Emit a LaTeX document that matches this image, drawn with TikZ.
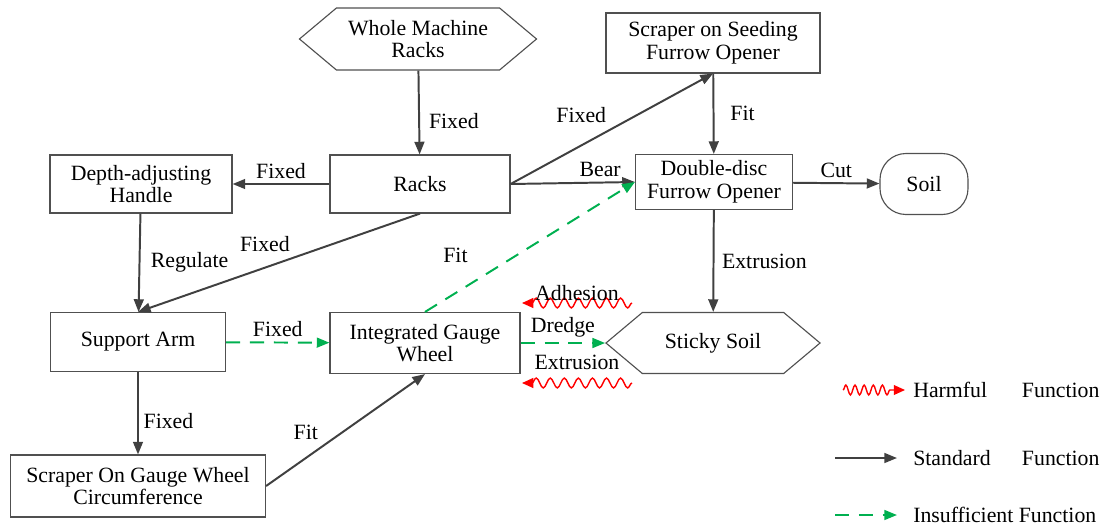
\documentclass[tikz,border=0pt]{standalone}
\usepackage{fontspec}
\setmainfont{Liberation Serif}
\usetikzlibrary{arrows.meta,shapes.symbols,decorations.pathmorphing}
\definecolor{linegray}{HTML}{404040}
\definecolor{boxgray}{HTML}{505050}
\definecolor{fungreen}{HTML}{00B050}

\begin{document}
\begin{tikzpicture}[x=0.025cm, y=-0.025cm,
    every node/.style={font=\fontsize{15.5}{16}\selectfont, text=black},
    box/.style={draw=boxgray, line width=0.8pt, align=center, inner sep=2pt},
    hexbox/.style={box, signal, signal to=west and east, signal pointer angle=80},
    std/.style={linegray, line width=1.4pt, -{Triangle[length=9pt,width=7pt]}},
    weak/.style={fungreen, line width=1.4pt, dash pattern=on 10pt off 7pt, -{Triangle[length=9pt,width=7pt]}},
    harm/.style={red, line width=1pt, -{Triangle[length=8pt,width=7pt]}, decorate,
        decoration={snake, amplitude=3.5pt, segment length=10pt, post length=6pt}},
    harmkey/.style={harm, decoration={snake, amplitude=3.5pt, segment length=6.5pt, post length=9pt}}]
    \useasboundingbox (0,0) rectangle (1108,526);

    % top row
    \node[hexbox, minimum width=5.925cm, minimum height=1.55cm] (machine) at (418,39) {Whole Machine\\Racks};
    \node[box, minimum width=5.35cm, minimum height=1.5cm] (seeding) at (713,43) {Scraper on Seeding\\Furrow Opener};

    % second row
    \node[box, minimum width=4.55cm, minimum height=1.45cm] (depth) at (141,184) {Depth-adjusting\\Handle};
    \node[box, minimum width=4.5cm, minimum height=1.45cm] (racks) at (420,184) {Racks};
    \node[box, minimum width=3.925cm, minimum height=1.375cm] (disc) at (714,182) {Double-disc\\Furrow Opener};
    \node[box, rounded corners=0.65cm, minimum width=2.2cm, minimum height=1.525cm] (soil) at (924,184) {Soil};

    % third row
    \node[box, minimum width=4.375cm, minimum height=1.475cm] (support) at (138,342) {Support Arm};
    \node[box, minimum width=4.75cm, minimum height=1.525cm] (wheel) at (425,343) {Integrated Gauge\\Wheel};
    \node[hexbox, minimum width=5.35cm, minimum height=1.525cm] (sticky) at (713,343) {Sticky Soil};

    % bottom
    \node[box, minimum width=6.375cm, minimum height=1.55cm] (scraper) at (138,486) {Scraper On Gauge Wheel\\Circumference};

    % standard functions
    \draw[std] (machine) -- node[pos=0.6, right, xshift=3pt]{Fixed} (racks);
    \draw[std] (racks) -- node[above]{Fixed} (depth);
    \draw[std] (racks.east) -- node[midway, above left]{Fixed} (seeding.south);
    \draw[std] (racks.east) -- node[pos=0.72, above]{Bear} (disc.west);
    \draw[std] (seeding) -- node[right, xshift=8pt]{Fit} (disc);
    \draw[std] (disc) -- node[above]{Cut} (soil);
    \draw[std] (disc) -- node[right, xshift=2pt]{Extrusion} (sticky);
    \draw[std] (depth) -- node[right, xshift=4pt]{Regulate} (support);
    \draw[std] (racks.south) -- node[pos=0.55, above=7pt]{Fixed} (support.north);
    \draw[std] (support) -- node[pos=0.6, right]{Fixed} (scraper);
    \draw[std] (scraper.east) -- node[pos=0.25, above=9pt]{Fit} (wheel.south);

    % insufficient functions
    \draw[weak] (support) -- node[above]{Fixed} (wheel);
    \draw[weak] (wheel.north) -- node[pos=0.27, above left=6pt]{Fit} (disc.west);
    \draw[weak] (wheel) -- node[above]{Dredge} (sticky.west);

    % harmful functions
    \coordinate (adhS) at (632,303);
    \coordinate (adhE) at (522,303);
    \coordinate (extS) at (632,383);
    \coordinate (extE) at (522,383);
    \draw[harm] (adhS) -- node[midway, yshift=7pt]{Adhesion} (adhE);
    \draw[harm] (extS) -- node[midway, yshift=15pt]{Extrusion} (extE);

    % legend
    \coordinate (harmS) at (843,390);
    \coordinate (harmE) at (905,390);
    \coordinate (stdS) at (835,458);
    \coordinate (stdE) at (897,458);
    \coordinate (insS) at (835,515);
    \coordinate (insE) at (897,515);
    \draw[harmkey] (harmS) -- (harmE);
    \draw[std] (stdS) -- (stdE);
    \draw[weak] (insS) -- (insE);
    \node[anchor=west, inner sep=0pt] (harmtxt) at (913,390) {\makebox[77.3pt][l]{Harmful}Function};
    \node[anchor=west, inner sep=0pt] (stdtxt) at (913,458) {\makebox[77.3pt][l]{Standard}Function};
    \node[anchor=west, inner sep=0pt] (instxt) at (913,515) {Insufficient Function};
\end{tikzpicture}
\end{document}
